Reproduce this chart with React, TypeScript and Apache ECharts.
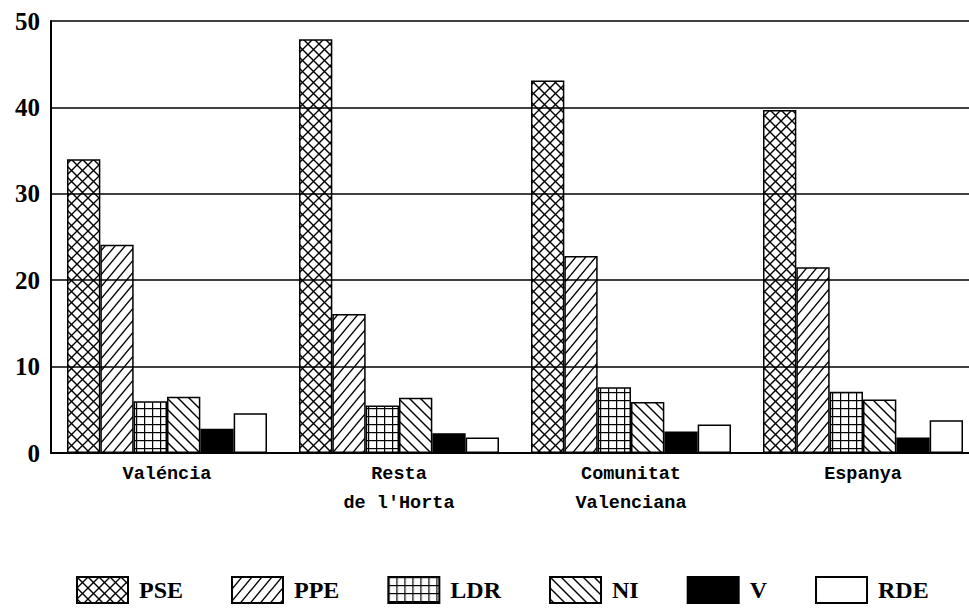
import React, { useEffect, useRef } from "react";
import * as echarts from "echarts";

const categories = ["Valéncia", "Resta\nde l'Horta", "Comunitat\nValenciana", "Espanya"];
const seriesNames = ["PSE", "PPE", "LDR", "NI", "V", "RDE"];
const PSE = [34.0, 47.9, 43.1, 39.7];
const PPE = [24.1, 16.1, 22.8, 21.5];
const LDR = [6.0, 5.5, 7.6, 7.1];
const NI = [6.5, 6.4, 5.9, 6.2];
const V = [2.8, 2.3, 2.5, 1.8];
const RDE = [4.6, 1.8, 3.3, 3.8];
const yTicks = { min: 0, max: 50, interval: 10 };

type Tile = { w: number; h: number; draw: (c: CanvasRenderingContext2D, w: number, h: number) => void };

function makePattern(t: Tile) {
  const cv = document.createElement("canvas");
  cv.width = t.w;
  cv.height = t.h;
  const c = cv.getContext("2d")!;
  c.fillStyle = "#fff";
  c.fillRect(0, 0, t.w, t.h);
  c.strokeStyle = "#000";
  c.lineWidth = 1.4;
  c.lineCap = "square";
  t.draw(c, t.w, t.h);
  return { image: cv.toDataURL(), repeat: "repeat", imageWidth: t.w, imageHeight: t.h };
}

const line = (c: CanvasRenderingContext2D, x1: number, y1: number, x2: number, y2: number) => {
  c.beginPath();
  c.moveTo(x1, y1);
  c.lineTo(x2, y2);
  c.stroke();
};

export default function App() {
  const ref = useRef<HTMLDivElement>(null);
  useEffect(() => {
    if (!ref.current) return;
    const cross = makePattern({
      w: 11, h: 11, draw: (c, w, h) => {
        line(c, -2, -2, w + 2, h + 2);
        line(c, w + 2, -2, -2, h + 2);
      },
    });
    const slash = makePattern({
      w: 10, h: 12, draw: (c, w, h) => {
        line(c, -w * 0.2, h * 1.2, w * 1.2, -h * 0.2);
        line(c, -w * 0.2 - w, h * 1.2, w * 0.2, -h * 0.2);
        line(c, w * 0.8, h * 1.2, w * 2.2, -h * 0.2);
      },
    });
    const grid = makePattern({
      w: 8, h: 8, draw: (c, w, h) => {
        line(c, 0.5, 0, 0.5, h);
        line(c, 0, 0.5, w, 0.5);
      },
    });
    const back = makePattern({
      w: 11, h: 11, draw: (c, w, h) => {
        line(c, -2, -2, w + 2, h + 2);
        line(c, -2 - w, -2, 2, h + 2);
        line(c, w - 2, -2, 2 * w + 2, h + 2);
      },
    });
    const fills: any[] = [cross, slash, grid, back, "#000", "#fff"];
    const values = [PSE, PPE, LDR, NI, V, RDE];

    const chart = echarts.init(ref.current, null, { renderer: "svg" });
    chart.setOption({
      animation: false,
      backgroundColor: "#fff",
      grid: { left: 51, top: 21, width: 928, height: 432, outerBoundsMode: "none", containLabel: false },
      legend: {
        left: 71,
        top: 571,
        itemWidth: 51,
        itemHeight: 26,
        itemGap: 48,
        icon: "rect",
        data: seriesNames,
        textStyle: {
          fontFamily: "Liberation Serif",
          fontWeight: "bold",
          fontSize: 24,
          color: "#000",
          padding: [0, 0, 0, 6],
        },
      },
      xAxis: {
        type: "category",
        data: categories,
        axisLine: { show: true, lineStyle: { color: "#000", width: 2 } },
        axisTick: { show: false },
        axisLabel: {
          margin: 7,
          color: "#000",
          fontFamily: "Liberation Mono",
          fontWeight: "bold",
          fontSize: 18.5,
          lineHeight: 29,
          interval: 0,
        },
      },
      yAxis: {
        type: "value",
        min: yTicks.min,
        max: yTicks.max,
        interval: yTicks.interval,
        z: 5,
        axisLine: { show: true, lineStyle: { color: "#000", width: 2 } },
        axisTick: { show: false },
        splitLine: { show: true, lineStyle: { color: "#000", width: 1.6 } },
        axisLabel: {
          margin: 11,
          color: "#000",
          fontFamily: "Liberation Serif",
          fontWeight: "bold",
          fontSize: 25,
        },
      },
      series: seriesNames.map((name, i) => ({
        name,
        type: "bar",
        data: values[i],
        barGap: "0%",
        barCategoryGap: "13.8%",
        z: 2,
        itemStyle: { color: fills[i], borderColor: "#000", borderWidth: 1.5 },
      })),
    });
    return () => chart.dispose();
  }, []);
  return (
    <div
      ref={ref}
      style={{ position: "fixed", left: 0, top: 0, width: 969, height: 610, background: "#fff" }}
    />
  );
}
